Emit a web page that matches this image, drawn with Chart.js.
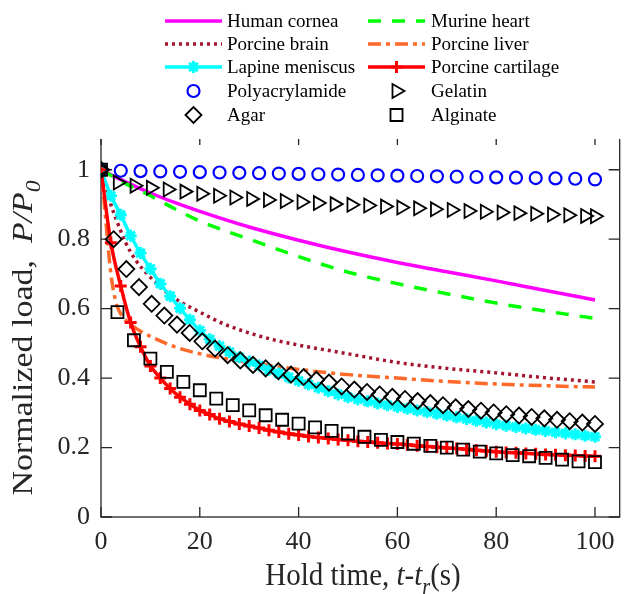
<!DOCTYPE html>
<html>
<head>
<meta charset="utf-8">
<script src="https://cdn.jsdelivr.net/npm/chart.js@4.4.1/dist/chart.umd.min.js"></script>
<style>
  html, body { margin: 0; padding: 0; background: #fff; overflow: hidden; }
  #wrap { width: 624px; height: 594px; overflow: hidden; }
</style>
</head>
<body>
<div id="wrap"><canvas id="c" width="630" height="594"></canvas></div>
<script>
// hold time (s) and normalized load P/P0
const curveTime = [0, 5, 10, 15, 20, 30, 40, 50, 60, 70, 80, 90, 100];
const corneaLoad = [1, 0.965, 0.933, 0.905, 0.88, 0.835, 0.797, 0.763, 0.733, 0.706, 0.68, 0.652, 0.625];
const heartLoad = [1, 0.96, 0.925, 0.887, 0.852, 0.8, 0.75, 0.705, 0.672, 0.643, 0.616, 0.593, 0.572];

const brainTime = [0, 1, 2, 3, 5, 7, 10, 13, 16, 20, 25, 30, 35, 40, 50, 60, 70, 80, 90, 100];
const brainLoad = [1, 0.95, 0.9, 0.86, 0.79, 0.74, 0.69, 0.65, 0.62, 0.59, 0.555, 0.53, 0.51, 0.495, 0.47, 0.445, 0.428, 0.415, 0.401, 0.389];

const liverTime = [0, 0.5, 1, 1.5, 2, 3, 4, 6, 8, 10, 15, 20, 30, 40, 50, 60, 70, 80, 90, 100];
const liverLoad = [1, 0.93, 0.85, 0.77, 0.7, 0.62, 0.585, 0.555, 0.535, 0.52, 0.49, 0.47, 0.445, 0.425, 0.41, 0.4, 0.39, 0.383, 0.378, 0.374];

const time2s = [0, 2, 4, 6, 8, 10, 12, 14, 16, 18, 20, 22, 24, 26, 28, 30, 32, 34, 36, 38, 40, 42, 44, 46, 48, 50,
  52, 54, 56, 58, 60, 62, 64, 66, 68, 70, 72, 74, 76, 78, 80, 82, 84, 86, 88, 90, 92, 94, 96, 98, 100];
const meniscusLoad = [1, 0.925, 0.87, 0.81, 0.76, 0.715, 0.672, 0.636, 0.601, 0.568, 0.537, 0.512, 0.492, 0.475, 0.46, 0.448,
  0.436, 0.424, 0.413, 0.402, 0.392, 0.382, 0.372, 0.362, 0.353, 0.345, 0.339, 0.333, 0.327, 0.322, 0.317, 0.312, 0.307,
  0.302, 0.297, 0.292, 0.287, 0.282, 0.277, 0.272, 0.267, 0.263, 0.259, 0.255, 0.251, 0.248, 0.244, 0.241, 0.238, 0.234, 0.231];
const cartilageLoad = [1, 0.79, 0.665, 0.56, 0.49, 0.435, 0.4, 0.37, 0.345, 0.325, 0.307, 0.295, 0.283, 0.275, 0.268, 0.262,
  0.256, 0.25, 0.245, 0.24, 0.236, 0.232, 0.229, 0.226, 0.223, 0.221, 0.218, 0.216, 0.214, 0.212, 0.21, 0.208, 0.205,
  0.203, 0.201, 0.199, 0.197, 0.195, 0.192, 0.19, 0.188, 0.186, 0.185, 0.183, 0.182, 0.18, 0.179, 0.178, 0.177, 0.176, 0.175];

const polyTime = [0, 4, 8, 12, 16, 20, 24, 28, 32, 36, 40, 44, 48, 52, 56, 60, 64, 68, 72, 76, 80, 84, 88, 92, 96, 100];
const polyLoad = [1, 0.997, 0.996, 0.995, 0.994, 0.993, 0.992, 0.991, 0.99, 0.989, 0.988, 0.987, 0.986, 0.985, 0.984,
  0.983, 0.982, 0.981, 0.98, 0.979, 0.978, 0.977, 0.976, 0.975, 0.974, 0.972];

const gelatinTime = [0, 3.4, 6.8, 10.1, 13.5, 16.9, 20.3, 23.7, 27, 30.4, 33.8, 37.2, 40.6, 43.9, 47.3, 50.7, 54.1, 57.5,
  60.8, 64.2, 67.6, 71, 74.4, 77.7, 81.1, 84.5, 87.9, 91.3, 94.6, 98, 100];
const gelatinLoad = [1, 0.963, 0.954, 0.948, 0.943, 0.937, 0.931, 0.925, 0.92, 0.916, 0.913, 0.91, 0.907, 0.904, 0.901,
  0.899, 0.897, 0.894, 0.891, 0.889, 0.886, 0.884, 0.881, 0.879, 0.877, 0.875, 0.873, 0.871, 0.869, 0.867, 0.866];

const agarTime = [0, 2.56, 5.13, 7.69, 10.26, 12.82, 15.38, 17.95, 20.51, 23.08, 25.64, 28.21, 30.77, 33.33, 35.9, 38.46,
  41.03, 43.59, 46.15, 48.72, 51.28, 53.85, 56.41, 58.97, 61.54, 64.1, 66.67, 69.23, 71.79, 74.36, 76.92, 79.49, 82.05,
  84.62, 87.18, 89.74, 92.31, 94.87, 97.44, 100];
const agarLoad = [1, 0.8, 0.714, 0.662, 0.614, 0.58, 0.554, 0.53, 0.506, 0.485, 0.466, 0.451, 0.438, 0.428, 0.42, 0.41,
  0.403, 0.395, 0.387, 0.376, 0.367, 0.36, 0.353, 0.346, 0.34, 0.334, 0.328, 0.322, 0.316, 0.311, 0.306, 0.301, 0.296,
  0.292, 0.288, 0.284, 0.28, 0.276, 0.272, 0.268];

const alginateTime = [0, 3.33, 6.67, 10, 13.33, 16.67, 20, 23.33, 26.67, 30, 33.33, 36.67, 40, 43.33, 46.67, 50, 53.33,
  56.67, 60, 63.33, 66.67, 70, 73.33, 76.67, 80, 83.33, 86.67, 90, 93.33, 96.67, 100];
const alginateLoad = [1, 0.59, 0.509, 0.456, 0.418, 0.389, 0.365, 0.341, 0.322, 0.307, 0.293, 0.28, 0.269, 0.258, 0.248,
  0.24, 0.231, 0.222, 0.216, 0.211, 0.205, 0.2, 0.194, 0.188, 0.183, 0.178, 0.175, 0.17, 0.165, 0.16, 0.158];

const FONT = '"Liberation Serif", "Times New Roman", serif';
const AXIS_COLOR = '#262626';

function pts(xs, ys) {
  return xs.map((x, i) => ({ x: x, y: ys[i] }));
}

function lineSet(label, xs, ys, color, width, dash, order) {
  return {
    label: label, data: pts(xs, ys), showLine: true,
    borderColor: color, backgroundColor: color, borderWidth: width, borderDash: dash,
    cubicInterpolationMode: 'monotone', pointRadius: 0, order: order
  };
}

function markerSet(label, xs, ys, color, style, radius, rotation, width, order) {
  return {
    label: label, data: pts(xs, ys), showLine: false,
    borderColor: color, backgroundColor: 'rgba(0,0,0,0)',
    pointStyle: style, pointRadius: radius, pointRotation: rotation,
    pointBorderColor: color, pointBackgroundColor: 'rgba(0,0,0,0)', pointBorderWidth: width, order: order
  };
}

const meniscus = lineSet('Lapine meniscus', time2s, meniscusLoad, '#00FFFF', 3.5, [], 6);
meniscus.pointRadius = 6; meniscus.pointStyle = 'star'; meniscus.pointBorderWidth = 3;
meniscus.pointBorderColor = '#00FFFF';

const cartilage = lineSet('Porcine cartilage', time2s, cartilageLoad, '#FF0000', 3.5, [], 5);
cartilage.pointRadius = 6; cartilage.pointStyle = 'cross'; cartilage.pointBorderWidth = 3;
cartilage.pointBorderColor = '#FF0000';

// legend order (row by row, two columns)
const datasets = [
  lineSet('Human cornea', curveTime, corneaLoad, '#FF00FF', 3.5, [], 10),
  lineSet('Murine heart', curveTime, heartLoad, '#00FF00', 3.5, [13, 11], 9),
  lineSet('Porcine brain', brainTime, brainLoad, '#A2142F', 3.5, [3, 4], 8),
  lineSet('Porcine liver', liverTime, liverLoad, '#FF6929', 3.5, [13, 5, 4, 5], 7),
  meniscus,
  cartilage,
  markerSet('Polyacrylamide', polyTime, polyLoad, '#0000FF', 'circle', 6, 0, 2.2, 4),
  markerSet('Gelatin', gelatinTime, gelatinLoad, '#000000', 'triangle', 8, 90, 1.8, 3),
  markerSet('Agar', agarTime, agarLoad, '#000000', 'rectRot', 8, 0, 1.8, 2),
  markerSet('Alginate', alginateTime, alginateLoad, '#000000', 'rect', 8.5, 0, 1.8, 1)
];

function richText(ctx, parts, cx, baseY, size) {
  let total = 0;
  parts.forEach(p => {
    p.size = p.sub ? size * 0.7 : size;
    p.font = (p.it ? 'italic ' : '') + p.size + 'px ' + FONT;
    ctx.font = p.font;
    p.w = ctx.measureText(p.t).width;
    total += p.w;
  });
  let x = cx - total / 2;
  parts.forEach(p => {
    ctx.font = p.font;
    ctx.fillText(p.t, x, baseY + (p.sub ? size * 0.28 : 0));
    x += p.w;
  });
}

const framePlugin = {
  id: 'frame',
  beforeDatasetsDraw(chart) {
    const ctx = chart.ctx, a = chart.chartArea;
    const xs = chart.scales.x, ys = chart.scales.y;
    ctx.save();
    ctx.strokeStyle = AXIS_COLOR;
    ctx.lineWidth = 1.3;
    ctx.strokeRect(a.left, a.top, a.right - a.left, a.bottom - a.top);
    ctx.beginPath();
    xs.ticks.forEach(t => {
      const px = xs.getPixelForValue(t.value);
      ctx.moveTo(px, a.bottom); ctx.lineTo(px, a.bottom - 10);
      ctx.moveTo(px, a.top); ctx.lineTo(px, a.top + 10);
    });
    ys.ticks.forEach(t => {
      const py = ys.getPixelForValue(t.value);
      ctx.moveTo(a.left, py); ctx.lineTo(a.left + 11, py);
      ctx.moveTo(a.right, py); ctx.lineTo(a.right - 11, py);
    });
    ctx.stroke();
    ctx.restore();
  },
  afterDraw(chart) {
    const ctx = chart.ctx;
    ctx.save();
    ctx.fillStyle = AXIS_COLOR;
    ctx.textAlign = 'left';
    ctx.textBaseline = 'alphabetic';
    // x axis title (the figure is slightly stretched vertically)
    ctx.save();
    ctx.translate(363, 585);
    ctx.scale(1, 1.1);
    richText(ctx, [
      { t: 'Hold time, ' }, { t: 't', it: true }, { t: '-' }, { t: 't', it: true },
      { t: 'r', it: true, sub: true }, { t: '(s)' }
    ], 0, 0, 29);
    ctx.restore();
    // y axis title
    ctx.save();
    ctx.translate(32, 338);
    ctx.scale(1, 1.17);
    ctx.rotate(-Math.PI / 2);
    richText(ctx, [
      { t: 'Normalized load,  ' }, { t: 'P/P', it: true }, { t: '0', it: true, sub: true }
    ], 0, 0, 29);
    ctx.restore();

    // legend box
    ctx.fillStyle = '#ffffff';
    ctx.fillRect(95, 0, chart.width - 95, 139);
    const rowY = [21, 44, 67, 91, 115];
    const lineX = [165, 368];
    const textX = [227, 431];
    chart.data.datasets.forEach((ds, i) => {
      const col = i % 2, y = rowY[Math.floor(i / 2)];
      if (ds.showLine) {
        ctx.strokeStyle = ds.borderColor;
        ctx.lineWidth = ds.borderWidth;
        ctx.setLineDash(ds.borderDash || []);
        ctx.beginPath();
        ctx.moveTo(lineX[col], y);
        ctx.lineTo(lineX[col] + 57, y);
        ctx.stroke();
        ctx.setLineDash([]);
      }
      if (ds.pointRadius > 0) {
        ctx.strokeStyle = ds.pointBorderColor;
        ctx.fillStyle = 'rgba(0,0,0,0)';
        ctx.lineWidth = ds.pointBorderWidth;
        Chart.helpers.drawPoint(ctx, {
          pointStyle: ds.pointStyle, rotation: ds.pointRotation || 0,
          radius: ds.pointRadius, borderWidth: ds.pointBorderWidth
        }, lineX[col] + 28.5, y);
      }
      ctx.fillStyle = '#000000';
      ctx.font = '19px ' + FONT;
      ctx.textBaseline = 'middle';
      ctx.fillText(ds.label, textX[col], y + 1);
    });
    ctx.restore();
  }
};

new Chart(document.getElementById('c'), {
  type: 'scatter',
  data: { datasets: datasets },
  options: {
    responsive: false,
    animation: false,
    devicePixelRatio: 1,
    events: [],
    layout: { padding: { top: 135, right: 4, left: 0, bottom: 0 } },
    plugins: { legend: { display: false }, tooltip: { enabled: false } },
    scales: {
      x: {
        type: 'linear', min: 0, max: 105,
        grid: { display: false, drawTicks: false },
        border: { display: false },
        ticks: {
          stepSize: 20, includeBounds: false, maxRotation: 0, padding: 10,
          color: AXIS_COLOR, font: { family: FONT, size: 26 }
        },
        afterFit: s => { s.height = 77; }
      },
      y: {
        type: 'linear', min: 0, max: 1.1,
        grid: { display: false, drawTicks: false },
        border: { display: false },
        ticks: {
          stepSize: 0.2, includeBounds: false, padding: 11,
          color: AXIS_COLOR, font: { family: FONT, size: 26 },
          callback: v => String(+v.toFixed(1))
        },
        afterFit: s => { s.width = 101; }
      }
    }
  },
  plugins: [framePlugin]
});
</script>
</body>
</html>
